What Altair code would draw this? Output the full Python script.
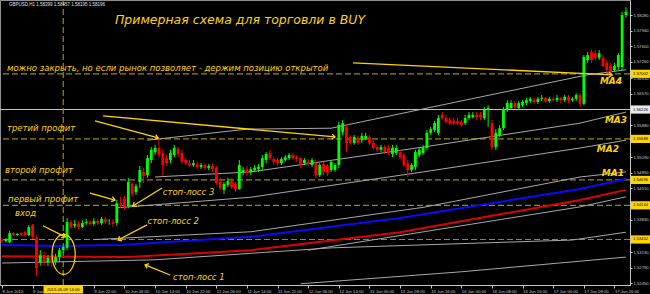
import math
import altair as alt
import pandas as pd

# ---------------- GBPUSD H1, bar 0 = 8 Jun 2015 22:00 ----------------
tick_bars = list(range(0, 161, 8))
tick_text = ["8 Jun 2015", "9 Jun", "", "9 Jun 22:00", "10 Jun 06:00",
             "10 Jun 14:00", "10 Jun 22:00", "11 Jun 06:00", "11 Jun 14:00", "11 Jun 22:00",
             "12 Jun 06:00", "12 Jun 14:00", "15 Jun 00:00", "15 Jun 08:00", "15 Jun 16:00",
             "16 Jun 00:00", "16 Jun 08:00", "16 Jun 16:00", "17 Jun 00:00", "17 Jun 08:00",
             "17 Jun 16:00"]
price_ticks = [1.58280, 1.57940, 1.57600, 1.57260, 1.56910, 1.56570, 1.55880,
               1.55190, 1.54850, 1.54510, 1.53830, 1.53130, 1.52790, 1.52450]

candles = [
    (1.5339, 1.5343, 1.5332, 1.5337), (1.5337, 1.5343, 1.5334, 1.5339), (1.5334, 1.5359, 1.5332, 1.5354),
    (1.5354, 1.5356, 1.5348, 1.5350), (1.5350, 1.5354, 1.5348, 1.5352), (1.5354, 1.5356, 1.5348, 1.5350),
    (1.5356, 1.5359, 1.5348, 1.5350), (1.5350, 1.5372, 1.5348, 1.5367), (1.5372, 1.5374, 1.5341, 1.5346),
    (1.5343, 1.5348, 1.5261, 1.5278), (1.5291, 1.5317, 1.5283, 1.5306), (1.5306, 1.5313, 1.5283, 1.5291),
    (1.5291, 1.5306, 1.5283, 1.5300), (1.5300, 1.5306, 1.5281, 1.5291), (1.5291, 1.5309, 1.5285, 1.5302),
    (1.5302, 1.5322, 1.5291, 1.5317), (1.5317, 1.5328, 1.5311, 1.5324), (1.5322, 1.5387, 1.5317, 1.5378),
    (1.5378, 1.5382, 1.5363, 1.5367), (1.5370, 1.5382, 1.5365, 1.5374), (1.5374, 1.5380, 1.5363, 1.5367),
    (1.5367, 1.5382, 1.5365, 1.5376), (1.5376, 1.5385, 1.5372, 1.5378), (1.5378, 1.5382, 1.5370, 1.5374),
    (1.5374, 1.5387, 1.5370, 1.5380), (1.5380, 1.5385, 1.5372, 1.5376), (1.5376, 1.5389, 1.5372, 1.5385),
    (1.5385, 1.5389, 1.5374, 1.5378), (1.5378, 1.5385, 1.5372, 1.5378), (1.5378, 1.5385, 1.5367, 1.5374),
    (1.5376, 1.5426, 1.5370, 1.5419), (1.5419, 1.5433, 1.5408, 1.5413), (1.5428, 1.5435, 1.5404, 1.5411),
    (1.5413, 1.5474, 1.5408, 1.5465), (1.5461, 1.5465, 1.5433, 1.5439), (1.5443, 1.5461, 1.5437, 1.5456),
    (1.5465, 1.5500, 1.5452, 1.5491), (1.5487, 1.5496, 1.5463, 1.5478), (1.5480, 1.5524, 1.5474, 1.5517),
    (1.5513, 1.5541, 1.5506, 1.5535), (1.5530, 1.5546, 1.5524, 1.5539), (1.5539, 1.5561, 1.5519, 1.5524),
    (1.5528, 1.5535, 1.5480, 1.5502), (1.5517, 1.5524, 1.5500, 1.5506), (1.5513, 1.5535, 1.5506, 1.5528),
    (1.5524, 1.5546, 1.5519, 1.5539), (1.5537, 1.5541, 1.5519, 1.5526), (1.5528, 1.5535, 1.5504, 1.5509),
    (1.5513, 1.5517, 1.5502, 1.5506), (1.5506, 1.5513, 1.5498, 1.5502), (1.5502, 1.5513, 1.5498, 1.5506),
    (1.5504, 1.5509, 1.5493, 1.5498), (1.5498, 1.5506, 1.5493, 1.5502), (1.5502, 1.5506, 1.5491, 1.5496),
    (1.5496, 1.5504, 1.5491, 1.5500), (1.5500, 1.5506, 1.5487, 1.5493), (1.5496, 1.5500, 1.5459, 1.5463),
    (1.5465, 1.5474, 1.5448, 1.5452), (1.5448, 1.5465, 1.5439, 1.5461), (1.5459, 1.5474, 1.5454, 1.5467),
    (1.5467, 1.5474, 1.5450, 1.5454), (1.5461, 1.5465, 1.5443, 1.5450), (1.5450, 1.5513, 1.5448, 1.5502),
    (1.5487, 1.5498, 1.5480, 1.5491), (1.5493, 1.5500, 1.5478, 1.5485), (1.5487, 1.5498, 1.5480, 1.5493),
    (1.5491, 1.5502, 1.5487, 1.5496), (1.5493, 1.5504, 1.5487, 1.5498), (1.5498, 1.5524, 1.5491, 1.5517),
    (1.5513, 1.5530, 1.5506, 1.5526), (1.5528, 1.5535, 1.5513, 1.5517), (1.5515, 1.5519, 1.5502, 1.5509),
    (1.5513, 1.5517, 1.5500, 1.5506), (1.5506, 1.5519, 1.5502, 1.5515), (1.5513, 1.5524, 1.5509, 1.5519),
    (1.5517, 1.5528, 1.5513, 1.5524), (1.5524, 1.5528, 1.5513, 1.5517), (1.5519, 1.5524, 1.5509, 1.5515),
    (1.5517, 1.5519, 1.5496, 1.5502), (1.5506, 1.5517, 1.5502, 1.5513), (1.5509, 1.5515, 1.5500, 1.5504),
    (1.5502, 1.5517, 1.5498, 1.5513), (1.5506, 1.5513, 1.5474, 1.5480), (1.5480, 1.5506, 1.5476, 1.5502),
    (1.5504, 1.5509, 1.5480, 1.5487), (1.5500, 1.5504, 1.5478, 1.5485), (1.5491, 1.5513, 1.5487, 1.5509),
    (1.5491, 1.5506, 1.5487, 1.5502), (1.5502, 1.5596, 1.5496, 1.5589), (1.5574, 1.5600, 1.5567, 1.5593),
    (1.5585, 1.5589, 1.5530, 1.5550), (1.5563, 1.5567, 1.5546, 1.5550), (1.5550, 1.5567, 1.5546, 1.5563),
    (1.5561, 1.5565, 1.5546, 1.5550), (1.5556, 1.5572, 1.5550, 1.5565), (1.5559, 1.5572, 1.5556, 1.5565),
    (1.5563, 1.5567, 1.5546, 1.5550), (1.5550, 1.5556, 1.5535, 1.5539), (1.5541, 1.5546, 1.5530, 1.5535),
    (1.5535, 1.5546, 1.5530, 1.5541), (1.5541, 1.5546, 1.5526, 1.5530), (1.5539, 1.5546, 1.5524, 1.5528),
    (1.5526, 1.5546, 1.5519, 1.5539), (1.5528, 1.5546, 1.5524, 1.5539), (1.5530, 1.5535, 1.5515, 1.5519),
    (1.5524, 1.5528, 1.5498, 1.5502), (1.5506, 1.5513, 1.5476, 1.5491), (1.5491, 1.5506, 1.5487, 1.5502),
    (1.5498, 1.5535, 1.5491, 1.5530), (1.5524, 1.5541, 1.5519, 1.5535), (1.5528, 1.5546, 1.5524, 1.5541),
    (1.5539, 1.5578, 1.5535, 1.5572), (1.5572, 1.5585, 1.5567, 1.5580), (1.5578, 1.5598, 1.5574, 1.5593),
    (1.5572, 1.5611, 1.5567, 1.5604), (1.5611, 1.5617, 1.5600, 1.5604), (1.5604, 1.5611, 1.5593, 1.5596),
    (1.5600, 1.5604, 1.5589, 1.5593), (1.5598, 1.5604, 1.5589, 1.5593), (1.5598, 1.5604, 1.5589, 1.5593),
    (1.5596, 1.5600, 1.5585, 1.5589), (1.5593, 1.5611, 1.5589, 1.5604), (1.5604, 1.5617, 1.5600, 1.5611),
    (1.5606, 1.5617, 1.5604, 1.5611), (1.5611, 1.5617, 1.5600, 1.5606), (1.5611, 1.5617, 1.5600, 1.5606),
    (1.5604, 1.5628, 1.5600, 1.5622), (1.5622, 1.5632, 1.5585, 1.5626), (1.5593, 1.5600, 1.5535, 1.5541),
    (1.5541, 1.5580, 1.5535, 1.5572), (1.5567, 1.5589, 1.5563, 1.5582), (1.5582, 1.5628, 1.5578, 1.5624),
    (1.5622, 1.5643, 1.5617, 1.5637), (1.5626, 1.5643, 1.5622, 1.5637), (1.5637, 1.5641, 1.5624, 1.5628),
    (1.5626, 1.5641, 1.5622, 1.5637), (1.5632, 1.5643, 1.5628, 1.5639), (1.5637, 1.5648, 1.5632, 1.5643),
    (1.5641, 1.5650, 1.5637, 1.5646), (1.5643, 1.5648, 1.5635, 1.5639), (1.5639, 1.5650, 1.5635, 1.5646),
    (1.5646, 1.5654, 1.5641, 1.5648), (1.5648, 1.5650, 1.5637, 1.5641), (1.5641, 1.5650, 1.5637, 1.5646),
    (1.5646, 1.5650, 1.5639, 1.5643), (1.5643, 1.5654, 1.5639, 1.5648), (1.5648, 1.5650, 1.5637, 1.5643),
    (1.5643, 1.5654, 1.5639, 1.5650), (1.5650, 1.5654, 1.5637, 1.5643), (1.5643, 1.5650, 1.5639, 1.5646),
    (1.5646, 1.5658, 1.5641, 1.5654), (1.5654, 1.5658, 1.5628, 1.5635), (1.5635, 1.5741, 1.5632, 1.5737),
    (1.5730, 1.5748, 1.5724, 1.5741), (1.5748, 1.5752, 1.5724, 1.5730), (1.5745, 1.5752, 1.5730, 1.5735),
    (1.5735, 1.5752, 1.5730, 1.5745), (1.5735, 1.5741, 1.5715, 1.5717), (1.5724, 1.5730, 1.5704, 1.5708),
    (1.5717, 1.5724, 1.5698, 1.5704), (1.5708, 1.5724, 1.5704, 1.5717), (1.5715, 1.5745, 1.5708, 1.5741),
    (1.5715, 1.5835, 1.5708, 1.5828), (1.5828, 1.5845, 1.5822, 1.5835),
]

# horizontal levels
level_prices = [1.57002, 1.55588, 1.54696, 1.54144, 1.53402]
white_level = 1.56226
entry_bar = 16

# moving averages / envelopes (bar, price)
gray_lines = {
    "ma4": ([38, 64, 86, 121, 153, 163], [1.5556, 1.5580, 1.5582, 1.5643, 1.5698, 1.5709]),
    "ma3": ([40, 65, 110, 151, 163], [1.5476, 1.5487, 1.5541, 1.5593, 1.5617]),
    "ma2": ([30, 65, 110, 151, 163], [1.5409, 1.5432, 1.5487, 1.5539, 1.5556]),
    "ma1": ([24, 65, 110, 151, 163], [1.5340, 1.5357, 1.5410, 1.5476, 1.5487]),
    "low1": ([0, 40, 86, 149, 163], [1.5289, 1.5296, 1.5322, 1.5339, 1.5356]),
    "low2": ([80, 151, 163], [1.5317, 1.5411, 1.5433]),
    "low3": ([78, 120, 163], [1.5244, 1.5270, 1.5302]),
}
blue_line = ([0, 15, 31, 65, 104, 151, 163], [1.5328, 1.5326, 1.5328, 1.5346, 1.5387, 1.5450, 1.5472])
red_line = ([0, 33, 65, 104, 151, 163], [1.5304, 1.5302, 1.5317, 1.5356, 1.5426, 1.5448])

# ---------------- scales ----------------
X_DOM = [-0.522, 164.06]
Y_DOM = [1.52413, 1.58606]
W, H = 630, 285
PX_X = W / (X_DOM[1] - X_DOM[0])
PX_Y = H / (Y_DOM[1] - Y_DOM[0])

YEL = "#ffd400"
DASH = "#9c8a00"
GRAY = "#a8a8a8"
AXC = "#c8c8c8"
FONT = "DejaVu Sans"

label_expr = "[" + ",".join("'%s'" % t for t in tick_text) + "][round(datum.value / 8)]"


def xe(field):
    return alt.X(field, type="quantitative",
                 scale=alt.Scale(domain=X_DOM, nice=False, zero=False, padding=0),
                 axis=alt.Axis(values=tick_bars, labelExpr=label_expr, title=None, grid=False,
                               labelAlign="left", labelFontSize=4.2, labelFont="Liberation Sans",
                               labelColor=AXC, labelPadding=1, tickSize=3, tickColor=AXC,
                               domainColor=AXC, labelOverlap=False, labelBound=False,
                               labelFlush=False))


def ye(field):
    return alt.Y(field, type="quantitative",
                 scale=alt.Scale(domain=Y_DOM, nice=False, zero=False, padding=0),
                 axis=alt.Axis(orient="right", values=price_ticks, format=".5f", title=None,
                               grid=False, labelFontSize=4.2, labelFont="Liberation Sans",
                               labelColor=AXC, labelPadding=1, tickSize=2, tickColor=AXC,
                               domainColor=AXC, labelOverlap=False, labelBound=False,
                               labelFlush=False))


cdf = pd.DataFrame(candles, columns=["o", "h", "l", "c"])
cdf["bar"] = range(len(cdf))
up = alt.condition("datum.c >= datum.o", alt.value("#00ff00"), alt.value("#ff0000"))

wicks = alt.Chart(cdf).mark_rule(strokeWidth=1).encode(x=xe("bar"), y=ye("l"), y2="h", color=up)
bodies = alt.Chart(cdf).mark_bar(size=2.8).encode(x=xe("bar"), y=ye("o"), y2="c", color=up)

rows = []
for name, (bx, by) in gray_lines.items():
    for b, p in zip(bx, by):
        rows.append({"line": name, "bar": b, "p": p})
gdf = pd.DataFrame(rows)
grays = alt.Chart(gdf).mark_line(color=GRAY, strokeWidth=1).encode(
    x=xe("bar"), y=ye("p"), detail="line:N")
blue = alt.Chart(pd.DataFrame({"bar": blue_line[0], "p": blue_line[1]})).mark_line(
    color="#0a0aff", strokeWidth=2).encode(x=xe("bar"), y=ye("p"))
red = alt.Chart(pd.DataFrame({"bar": red_line[0], "p": red_line[1]})).mark_line(
    color="#e00000", strokeWidth=2).encode(x=xe("bar"), y=ye("p"))

levels = alt.Chart(pd.DataFrame({"p": level_prices})).mark_rule(
    color=DASH, strokeWidth=1.2, strokeDash=[6, 3]).encode(y=ye("p"))
white = alt.Chart(pd.DataFrame({"p": [white_level]})).mark_rule(
    color="#c8c8c8", strokeWidth=1).encode(y=ye("p"))
vline = alt.Chart(pd.DataFrame({"bar": [entry_bar]})).mark_rule(
    color=DASH, strokeWidth=1.2, strokeDash=[6, 3]).encode(x=xe("bar"))

# annotations
arrows = pd.DataFrame({
    "x0": [10.7, 23.0, 41.8, 37.9, 43.9, 24.3, 26.4, 91.7],
    "y0": [1.5370, 1.5441, 1.5452, 1.5372, 1.5263, 1.5598, 1.5609, 1.5724],
    "x1": [16.5, 29.5, 34.2, 30.3, 37.4, 40.8, 87.0, 159.4],
    "y1": [1.5346, 1.5426, 1.5413, 1.5339, 1.5285, 1.5561, 1.5563, 1.5698],
})
arrows["ang"] = [
    (math.degrees(math.atan2(-(r.y1 - r.y0) * PX_Y, (r.x1 - r.x0) * PX_X)) + 360) % 360
    for r in arrows.itertuples()
]
arrow_lines = alt.Chart(arrows).mark_rule(color=YEL, strokeWidth=1.3).encode(
    x=xe("x0"), y=ye("y0"), x2="x1", y2="y1")
arrow_heads = alt.Chart(arrows).mark_point(
    shape="M -1 -0.8 L 0 0 L -1 0.8", filled=False, size=40, strokeWidth=1.3, color=YEL,
    opacity=1).encode(x=xe("x1"), y=ye("y1"), angle=alt.Angle("ang:Q", scale=None))

ellipse = alt.Chart(pd.DataFrame({"bar": [16.1], "p": [1.5308]})).mark_point(
    shape="M 0 -1 A 0.58 1 0 1 0 0 1 A 0.58 1 0 1 0 0 -1 Z", filled=False, size=1600,
    strokeWidth=1.2, color=YEL, opacity=1).encode(x=xe("bar"), y=ye("p"))

notes = pd.DataFrame({
    "t": ["можно закрыть, но если рынок позволяет - держим позицию открытой",
          "третий профит", "второй профит", "первый профит", "вход",
          "стоп-лосс 3", "стоп-лосс 2", "стоп-лосс 1"],
    "bar": [1.3, 1.3, 0.8, 1.6, 3.4, 42.0, 38.0, 44.7],
    "p": [1.5713, 1.5583, 1.5491, 1.5429, 1.5397, 1.5443, 1.5380, 1.5259],
})
note_text = alt.Chart(notes).mark_text(
    align="left", baseline="middle", font=FONT, fontStyle="italic", fontSize=8.5,
    color=YEL).encode(x=xe("bar"), y=ye("p"), text="t:N")

ma_tags = pd.DataFrame({"t": ["MA4", "MA3", "MA2", "MA1"],
                        "bar": [156.2, 157.5, 155.4, 156.7],
                        "p": [1.5685, 1.5600, 1.5537, 1.5485]})
ma_text = alt.Chart(ma_tags).mark_text(
    align="left", baseline="middle", font=FONT, fontStyle="italic", fontWeight="bold",
    fontSize=9, color=YEL).encode(x=xe("bar"), y=ye("p"), text="t:N")

title = alt.Chart(pd.DataFrame({"t": ["Примерная схема для торговли в BUY"],
                                "bar": [29.5], "p": [1.5817]})).mark_text(
    align="left", baseline="middle", font=FONT, fontStyle="italic", fontSize=12.5,
    color=YEL).encode(x=xe("bar"), y=ye("p"), text="t:N")

header = alt.Chart(pd.DataFrame({"t": ["GBPUSD,H1  1.58399 1.58457 1.58195 1.58196"]})).mark_text(
    align="left", baseline="middle", font="Liberation Sans", fontSize=4.5, color="#e0e0e0"
).encode(x=alt.value(9), y=alt.value(5), text="t:N")

# price tags on the right scale
tags = pd.DataFrame({"p": level_prices + [white_level],
                     "fill": [YEL] * len(level_prices) + ["#e8e8e8"]})
tag_box = alt.Chart(tags).mark_point(
    shape="M -1 -0.42 L 1 -0.42 L 1 0.42 L -1 0.42 Z", filled=True, size=380, opacity=1,
    strokeWidth=0).encode(x=alt.value(640.5), y=ye("p"), color=alt.Color("fill:N", scale=None))
tag_text = alt.Chart(tags).mark_text(
    align="center", baseline="middle", font="Liberation Sans", fontSize=4.2, color="#000000"
).encode(x=alt.value(640.5), y=ye("p"), text=alt.Text("p:Q", format=".5f"))

time_tag = alt.Chart(pd.DataFrame({"bar": [entry_bar], "t": ["2015.06.09 14:00"]}))
time_box = time_tag.mark_point(
    shape="M -1 -0.2 L 1 -0.2 L 1 0.2 L -1 0.2 Z", filled=True, size=1560, opacity=1,
    strokeWidth=0, color=YEL).encode(x=xe("bar"), y=alt.value(289.5))
time_text = time_tag.mark_text(
    align="center", baseline="middle", font="Liberation Sans", fontSize=4.2, color="#000000"
).encode(x=xe("bar"), y=alt.value(289.5), text="t:N")

chart = alt.layer(
    levels, white, vline, grays, blue, red, wicks, bodies,
    arrow_lines, arrow_heads, ellipse, note_text, ma_text, title, header,
    tag_box, tag_text, time_box, time_text,
).properties(
    width=W, height=H,
    padding={"left": 0, "top": 0, "right": 20, "bottom": 9},
    autosize=alt.AutoSizeParams(type="none"),
).configure(background="#000000").configure_view(stroke="#909090", fill="#000000")

chart.save("out.html", embed_options={"renderer": "svg", "actions": False})
